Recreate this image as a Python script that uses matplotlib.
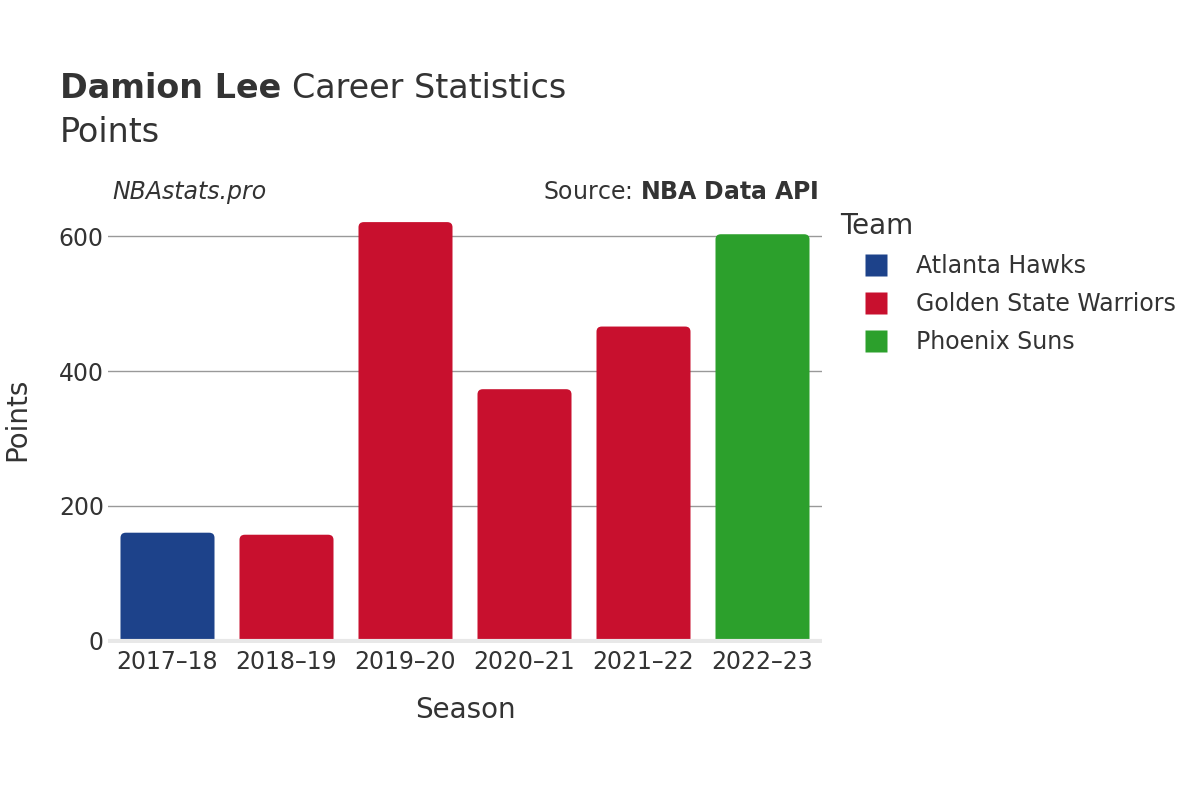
import matplotlib.pyplot as plt
from matplotlib.patches import FancyBboxPatch
from matplotlib.lines import Line2D

seasons = ['2017–18', '2018–19', '2019–20', '2020–21', '2021–22', '2022–23']
points = [160, 157, 621, 373, 466, 603]
teams = ['Atlanta Hawks', 'Golden State Warriors', 'Golden State Warriors',
         'Golden State Warriors', 'Golden State Warriors', 'Phoenix Suns']
team_order = ['Atlanta Hawks', 'Golden State Warriors', 'Phoenix Suns']
team_colors = {'Atlanta Hawks': '#1d428a',
               'Golden State Warriors': '#c8102e',
               'Phoenix Suns': '#2ca02c'}

TXT = '#333333'
plt.rcParams['font.family'] = ['DejaVu Sans']
plt.rcParams['mathtext.fontset'] = 'dejavusans'


def main():
    fig = plt.figure(figsize=(12, 8), dpi=100)
    ax = fig.add_axes([0.09, 0.196, 0.595, 0.539])

    x = list(range(len(seasons)))
    bars = ax.bar(x, points, width=0.79, color='none')
    ax.set_xlim(-0.5, len(seasons) - 0.5)
    ax.set_ylim(-4, 636)

    # swap plain bars for ones with rounded corners
    for b, t in zip(bars, teams):
        bx, by = b.get_x(), b.get_y()
        w, h = b.get_width(), b.get_height()
        p = FancyBboxPatch((bx, by - 20), w, h + 20,
                           boxstyle='round,pad=0,rounding_size=0.045',
                           mutation_aspect=170, facecolor=team_colors[t],
                           edgecolor='none', zorder=2)
        ax.add_patch(p)
        b.remove()

    ax.set_yticks([0, 200, 400, 600])
    ax.grid(axis='y', color='#999999', linewidth=1)
    ax.set_axisbelow(True)
    ax.axhline(0, color='#e8e8e8', linewidth=3, zorder=3)
    for s in ax.spines.values():
        s.set_visible(False)
    ax.tick_params(length=0, labelsize=17, labelcolor=TXT)
    ax.tick_params(axis='y', pad=3)
    ax.tick_params(axis='x', pad=5)
    ax.set_xticks(x)
    ax.set_xticklabels(seasons)

    ax.set_xlabel('Season', fontsize=20, color=TXT, labelpad=16)
    fig.text(0.014, 0.476, 'Points', rotation=90, fontsize=20, color=TXT,
             ha='center', va='center')

    t1 = fig.text(0.05, 0.889, 'Damion Lee', fontsize=24, fontweight='bold',
                  color=TXT, va='center')
    fig.canvas.draw()
    r = fig.canvas.get_renderer()
    x1 = t1.get_window_extent(r).x1 / fig.bbox.width
    fig.text(x1 + 0.009, 0.889, 'Career Statistics', fontsize=24, color=TXT,
             va='center')
    fig.text(0.05, 0.834, 'Points', fontsize=24, color=TXT, va='center')

    fig.text(0.094, 0.76, 'NBAstats.pro', fontsize=17, style='italic',
             color=TXT, va='center')
    fig.text(0.682, 0.76, 'Source: $\\bf{NBA\\ Data\\ API}$', fontsize=17,
             color=TXT, va='center', ha='right')

    fig.text(0.7, 0.717, 'Team', fontsize=20, color=TXT, va='center')
    handles = [Line2D([], [], marker='s', linestyle='none', markersize=16,
                      markerfacecolor=team_colors[t], markeredgecolor='none')
               for t in team_order]
    fig.legend(handles, team_order, loc='center left',
               bbox_to_anchor=(0.7104, 0.62), frameon=False,
               fontsize=17, labelcolor=TXT, handletextpad=0.7,
               labelspacing=0.6, borderaxespad=0, borderpad=0)

    fig.savefig('out.png', dpi=100)


if __name__ == '__main__':
    main()
